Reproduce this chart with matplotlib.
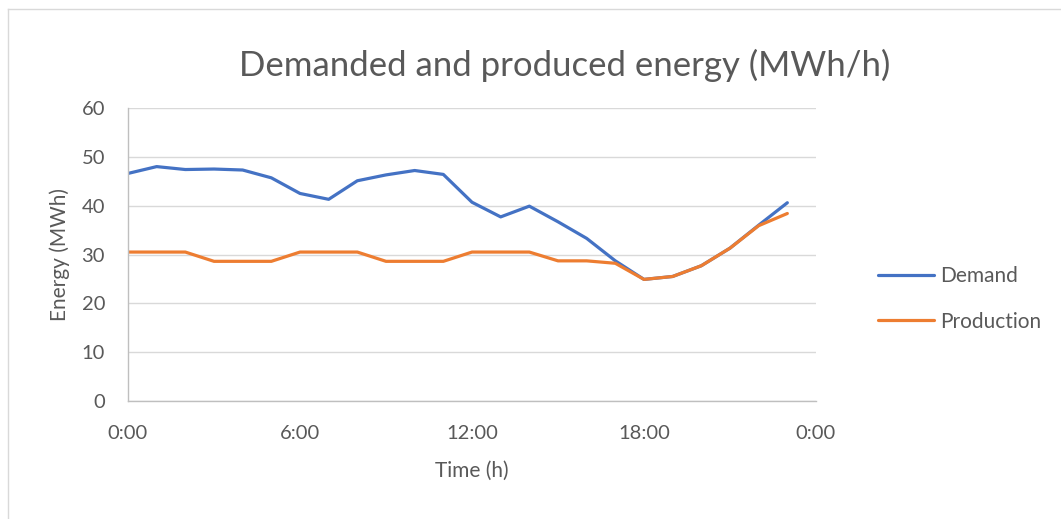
import numpy as np
import matplotlib.pyplot as plt
from matplotlib.lines import Line2D

plt.rcParams['font.family'] = ['Lato', 'DejaVu Sans']

hours = np.arange(24)
demand = [46.6, 48.0, 47.4, 47.5, 47.3, 45.7, 42.5, 41.3, 45.1, 46.3, 47.2, 46.4,
          40.7, 37.7, 39.9, 36.7, 33.3, 28.7, 24.9, 25.5, 27.7, 31.3, 36.0, 40.6]
production = [30.5, 30.5, 30.5, 28.6, 28.6, 28.6, 30.5, 30.5, 30.5, 28.6, 28.6, 28.6,
              30.5, 30.5, 30.5, 28.7, 28.7, 28.2, 24.9, 25.5, 27.7, 31.3, 35.9, 38.4]
xticks = [0, 6, 12, 18, 24]
xticklabels = ['0:00', '6:00', '12:00', '18:00', '0:00']

txt = '#595959'
W, H = 1061, 519
fig = plt.figure(figsize=(W / 100, H / 100), dpi=100)
ax = fig.add_axes([128 / W, 1 - 401 / H, (816 - 128) / W, (401 - 108) / H])

ax.plot(hours, demand, color='#4472C4', lw=2.3, label='Demand', solid_capstyle='round')
ax.plot(hours, production, color='#ED7D31', lw=2.3, label='Production', solid_capstyle='round')

ax.set_xlim(0, 24)
ax.set_ylim(0, 60)
ax.set_xticks(xticks)
ax.set_xticklabels(xticklabels)
ax.set_yticks(range(0, 61, 10))
ax.yaxis.grid(True, color='#d9d9d9', lw=1)
ax.set_axisbelow(True)
for s in ['top', 'right']:
    ax.spines[s].set_visible(False)
for s in ['left', 'bottom']:
    ax.spines[s].set_color('#bfbfbf')
    ax.spines[s].set_linewidth(1)
ax.tick_params(length=0, labelsize=14.5, colors=txt)
ax.tick_params(axis='y', pad=16.5)
ax.tick_params(axis='x', pad=17)

ax.set_xlabel('Time (h)', fontsize=15, color=txt, labelpad=14)
ax.set_ylabel('Energy (MWh)', fontsize=15, color=txt)
ax.yaxis.set_label_coords(-(128 - 70) / (816 - 128), 0.5)
fig.text(565 / W, 1 - 65 / H, 'Demanded and produced energy (MWh/h)',
         fontsize=25, color=txt, ha='center', va='center')

ax.legend(loc='center left', bbox_to_anchor=(859 / W, 1 - 299 / H),
          bbox_transform=fig.transFigure, frameon=False,
          fontsize=15, labelcolor=txt, labelspacing=1.2, handlelength=2.7,
          handletextpad=0.3)

# chart frame
fig.add_artist(Line2D([8 / W, 8 / W], [0, 1 - 9 / H], color='#d9d9d9', lw=1))
fig.add_artist(Line2D([8 / W, 1], [1 - 9 / H, 1 - 9 / H], color='#d9d9d9', lw=1))

fig.savefig('out.png', dpi=100)
